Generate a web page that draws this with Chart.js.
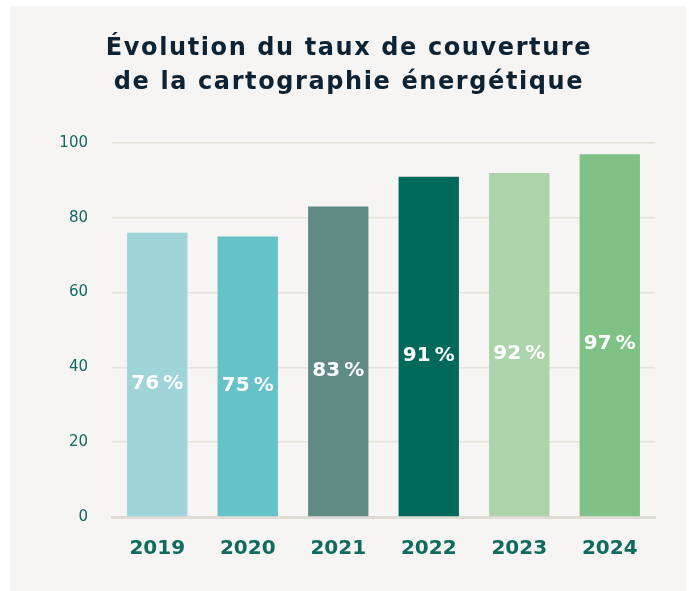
<!DOCTYPE html>
<html>
<head>
<meta charset="utf-8">
<script src="https://cdn.jsdelivr.net/npm/chart.js@4.4.1/dist/chart.umd.min.js"></script>
<style>
  html, body { margin: 0; padding: 0; background: #ffffff; }
  #panel { position: absolute; left: 10px; top: 6px; width: 676px; height: 585px; background: #f6f5f3; }
  canvas { display: block; }
</style>
</head>
<body>
<div id="panel"><canvas id="graf" width="676" height="585"></canvas></div>
<script>
// données
const annees = ['2019', '2020', '2021', '2022', '2023', '2024'];
const taux = [76, 75, 83, 91, 92, 97];
const couleurs = ['#9fd5d9', '#64c2c8', '#5f8b84', '#006a5a', '#abd4ab', '#80c186'];
const titre = ['Évolution du taux de couverture', 'de la cartographie énergétique'];

const police = '"DejaVu Sans", "Open Sans", sans-serif';

// titre dessiné à la main (police large, un peu d'espacement)
const pluginTitre = {
    id: 'titre',
    afterDraw(chart) {
        const ctx = chart.ctx;
        ctx.save();
        ctx.fillStyle = '#0d2233';
        ctx.font = 'bold 24px ' + police;
        ctx.letterSpacing = '1.6px';
        ctx.textAlign = 'center';
        ctx.textBaseline = 'alphabetic';
        ctx.fillText(titre[0], 339, 49);
        ctx.fillText(titre[1], 339, 83);
        ctx.restore();
    }
};

// pourcentages dans les barres
const pluginValeurs = {
    id: 'valeurs',
    afterDatasetsDraw(chart) {
        const ctx = chart.ctx;
        const meta = chart.getDatasetMeta(0);
        ctx.save();
        ctx.fillStyle = '#ffffff';
        ctx.font = 'bold 20px ' + police;
        ctx.textAlign = 'center';
        ctx.textBaseline = 'middle';
        meta.data.forEach((bar, i) => {
            const y = (bar.y + bar.base) / 2 + 9;
            ctx.fillText(taux[i] + '\u2009%', bar.x, y);
        });
        ctx.restore();
    }
};

new Chart(document.getElementById('graf'), {
    type: 'bar',
    data: {
        labels: annees,
        datasets: [{
            data: taux,
            backgroundColor: couleurs,
            borderWidth: 0,
            barPercentage: 0.667,
            categoryPercentage: 1
        }]
    },
    options: {
        responsive: false,
        animation: false,
        layout: { padding: { top: 137, right: 31, left: 0, bottom: 0 } },
        plugins: {
            legend: { display: false },
            tooltip: { enabled: false },
            title: { display: false }
        },
        scales: {
            y: {
                min: 0,
                max: 100,
                ticks: {
                    stepSize: 20,
                    padding: 24,
                    color: '#0e6b5e',
                    font: { size: 15, family: police }
                },
                grid: { color: '#e6e1db', lineWidth: 1.5, drawTicks: false },
                border: { display: false },
                afterFit(scale) { scale.width = 102; }
            },
            x: {
                ticks: {
                    padding: 20,
                    color: '#0e6b5e',
                    font: { size: 20, weight: 'bold', family: police }
                },
                grid: { display: false, drawTicks: false },
                border: { color: '#e0dbd4', width: 3 },
                afterFit(scale) { scale.height = 74; }
            }
        }
    },
    plugins: [pluginTitre, pluginValeurs]
});
</script>
</body>
</html>
